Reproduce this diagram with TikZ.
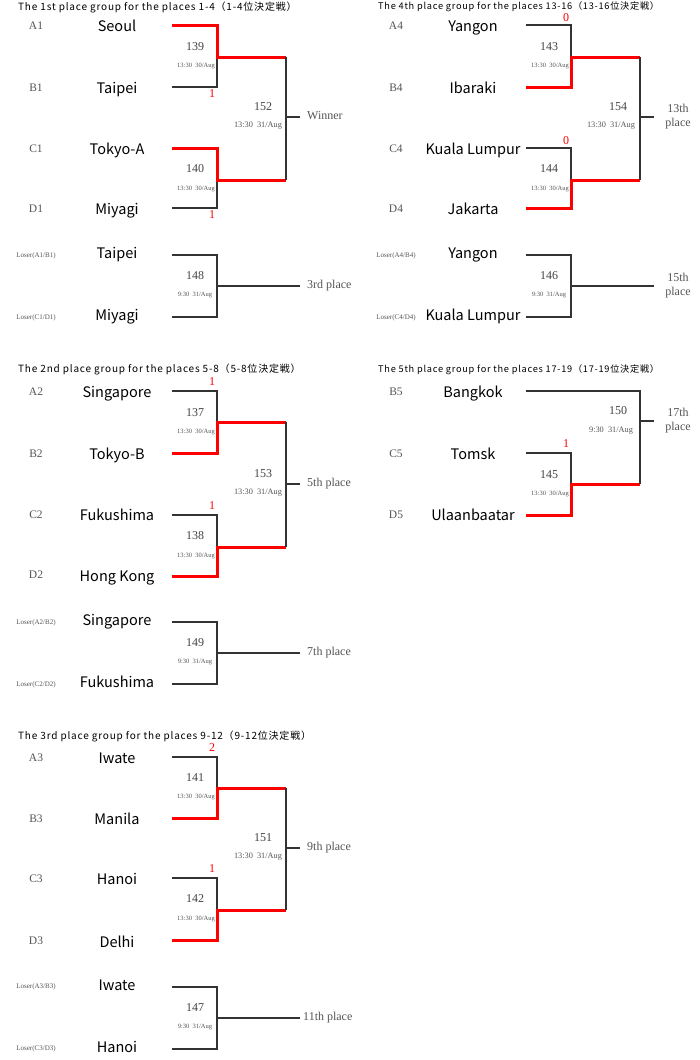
\documentclass[tikz,border=0pt]{standalone}
\usepackage{fontspec}
\setmainfont{Liberation Serif}
\newfontfamily\jp{Noto Sans CJK JP}
\newfontfamily\jpt[LetterSpace=8]{Noto Sans CJK JP}
\definecolor{wred}{HTML}{FF0000}
\definecolor{lgray}{HTML}{333333}
\definecolor{tgray}{HTML}{555555}
\tikzset{
 team/.style={font=\jp\fontsize{14.5}{16}\selectfont, text=black, inner sep=0pt, anchor=mid, yshift=-3pt},
 slot/.style={font=\fontsize{11.5}{12}\selectfont, text=tgray, inner sep=0pt, anchor=mid, yshift=-1pt},
 losr/.style={font=\fontsize{7}{8}\selectfont, text=tgray, inner sep=0pt, anchor=mid},
 gno/.style={font=\fontsize{12}{13}\selectfont, text=tgray!80!black, inner sep=0pt, anchor=mid},
 gdate/.style={font=\fontsize{6.5}{7}\selectfont, text=tgray, inner sep=0pt, anchor=mid},
 fdate/.style={font=\fontsize{8.3}{9}\selectfont, text=tgray, inner sep=0pt, anchor=mid},
 score/.style={font=\fontsize{12}{13}\selectfont, text=wred, inner sep=0pt, anchor=mid},
 place/.style={font=\fontsize{12}{14}\selectfont, text=tgray, inner sep=0pt, align=center},
 gtitle/.style={font=\jpt\fontsize{10}{11}\selectfont, inner sep=0pt, anchor=mid west},
 gtitler/.style={font=\jpt\fontsize{9.2}{11}\selectfont, inner sep=0pt, anchor=mid west},
 bl/.style={draw=lgray, line width=1.2pt},
 rl/.style={draw=wred, line width=3pt},
}
% semi-final pair: #1 prefix, #2 ytop, #3 ybot, #4 yjoin, #5 winner (1 top / 2 bottom)
\newcommand\semipair[5]{%
 \coordinate (#1t) at (172,#2);
 \coordinate (#1b) at (172,#3);
 \coordinate (#1j) at (217,#4);
 \coordinate (#1o) at (286,#4);
 \ifnum#5=1
   \draw[bl] (#1b) -| (#1j);
   \draw[rl] (#1t) -| (#1j) -- (#1o);
 \else
   \draw[bl] (#1t) -| (#1j);
   \draw[rl] (#1b) -| (#1j) -- (#1o);
 \fi}
% loser pair: #1 prefix, #2 end of outgoing line
\newcommand\loserpair[2]{%
 \coordinate (#1t) at (172,255);
 \coordinate (#1b) at (172,317);
 \coordinate (#1j) at (217,286);
 \coordinate (#1e) at (#2,286);
 \draw[bl] (#1t) -| (#1j);
 \draw[bl] (#1b) -| (#1j);
 \draw[bl] (#1j) -- (#1e);}
\begin{document}
\begin{tikzpicture}[x=1pt,y=-1pt]
\useasboundingbox[fill=white] (0,0) rectangle (700,1060);

% ---------- titles ----------
\node[gtitle] (t1) at (18,8) {The 1st place group for the places 1-4（1-4位決定戦）};
\node[gtitler] (t4) at (378,7) {The 4th place group for the places 13-16（13-16位決定戦）};
\node[gtitle] (t2) at (18,370) {The 2nd place group for the places 5-8（5-8位決定戦）};
\node[gtitler] (t5) at (378,370) {The 5th place group for the places 17-19（17-19位決定戦）};
\node[gtitle] (t3) at (18,737) {The 3rd place group for the places 9-12（9-12位決定戦）};

% ---------- group 1 ----------
\begin{scope}
\node[slot] (g1sA) at (36,26) {A1};
\node[slot] (g1sB) at (36,88) {B1};
\node[slot] (g1sC) at (36,149) {C1};
\node[slot] (g1sD) at (36,209) {D1};
\node[team] (g1nA) at (117,26) {Seoul};
\node[team] (g1nB) at (117,88) {Taipei};
\node[team] (g1nC) at (117,149) {Tokyo-A};
\node[team] (g1nD) at (117,209) {Miyagi};
\semipair{g1ab}{25}{87}{57}{1}
\semipair{g1cd}{148}{208}{180}{1}
\node[gno] (g1m1) at (195,48) {139};
\node[gdate] (g1d1) at (196,65) {13:30\ \ 30/Aug};
\node[gno] (g1m2) at (195,170) {140};
\node[gdate] (g1d2) at (196,188) {13:30\ \ 30/Aug};
\node[score] (g1r1) at (212,95) {1};
\node[score] (g1r2) at (212,216) {1};
\coordinate (g1ft) at (286,57);
\coordinate (g1fb) at (286,180);
\coordinate (g1fm) at (286,117);
\coordinate (g1fe) at (300,117);
\draw[bl] (g1ft) -- (g1fb);
\draw[bl] (g1fm) -- (g1fe);
\node[gno] (g1m3) at (263,108) {152};
\node[fdate] (g1d3) at (258,125) {13:30\ \ 31/Aug};
\node[place, anchor=mid west] (g1p1) at (307,117) {Winner};
\node[losr] (g1lA) at (36,255) {Loser(A1/B1)};
\node[losr] (g1lB) at (36,317) {Loser(C1/D1)};
\node[team] (g1lnA) at (117,253) {Taipei};
\node[team] (g1lnB) at (117,315) {Miyagi};
\loserpair{g1l}{300}
\node[gno] (g1m4) at (195,277) {148};
\node[gdate] (g1d4) at (195,294) {9:30\ \ 31/Aug};
\node[place, anchor=mid west] (g1p2) at (307,286) {3rd place};
\end{scope}

% ---------- group 2 ----------
\begin{scope}[shift={(0,366)}]
\node[slot] (g2sA) at (36,26) {A2};
\node[slot] (g2sB) at (36,88) {B2};
\node[slot] (g2sC) at (36,149) {C2};
\node[slot] (g2sD) at (36,209) {D2};
\node[team] (g2nA) at (117,26) {Singapore};
\node[team] (g2nB) at (117,88) {Tokyo-B};
\node[team] (g2nC) at (117,149) {Fukushima};
\node[team] (g2nD) at (117,210) {Hong Kong};
\semipair{g2ab}{25}{87}{56}{2}
\semipair{g2cd}{149}{210}{181}{2}
\node[gno] (g2m1) at (195,48) {137};
\node[gdate] (g2d1) at (196,65) {13:30\ \ 30/Aug};
\node[gno] (g2m2) at (195,171) {138};
\node[gdate] (g2d2) at (196,189) {13:30\ \ 30/Aug};
\node[score] (g2r1) at (212,17) {1};
\node[score] (g2r2) at (212,141) {1};
\coordinate (g2ft) at (286,56);
\coordinate (g2fb) at (286,181);
\coordinate (g2fm) at (286,118);
\coordinate (g2fe) at (300,118);
\draw[bl] (g2ft) -- (g2fb);
\draw[bl] (g2fm) -- (g2fe);
\node[gno] (g2m3) at (263,109) {153};
\node[fdate] (g2d3) at (258,126) {13:30\ \ 31/Aug};
\node[place, anchor=mid west] (g2p1) at (307,118) {5th place};
\node[losr] (g2lA) at (36,256) {Loser(A2/B2)};
\node[losr] (g2lB) at (36,318) {Loser(C2/D2)};
\node[team] (g2lnA) at (117,254) {Singapore};
\node[team] (g2lnB) at (117,316) {Fukushima};
\begin{scope}[shift={(0,1)}]
\loserpair{g2l}{300}
\end{scope}
\node[gno] (g2m4) at (195,278) {149};
\node[gdate] (g2d4) at (195,295) {9:30\ \ 31/Aug};
\node[place, anchor=mid west] (g2p2) at (307,287) {7th place};
\end{scope}

% ---------- group 3 ----------
\begin{scope}[shift={(0,732)}]
\node[slot] (g3sA) at (36,26) {A3};
\node[slot] (g3sB) at (36,87) {B3};
\node[slot] (g3sC) at (36,147) {C3};
\node[slot] (g3sD) at (36,209) {D3};
\node[team] (g3nA) at (117,26) {Iwate};
\node[team] (g3nB) at (117,87) {Manila};
\node[team] (g3nC) at (117,147) {Hanoi};
\node[team] (g3nD) at (117,210) {Delhi};
\semipair{g3ab}{25}{86}{56}{2}
\semipair{g3cd}{146}{208}{178}{2}
\node[gno] (g3m1) at (195,47) {141};
\node[gdate] (g3d1) at (196,64) {13:30\ \ 30/Aug};
\node[gno] (g3m2) at (195,168) {142};
\node[gdate] (g3d2) at (196,186) {13:30\ \ 30/Aug};
\node[score] (g3r1) at (212,17) {2};
\node[score] (g3r2) at (212,138) {1};
\coordinate (g3ft) at (286,56);
\coordinate (g3fb) at (286,178);
\coordinate (g3fm) at (286,116);
\coordinate (g3fe) at (300,116);
\draw[bl] (g3ft) -- (g3fb);
\draw[bl] (g3fm) -- (g3fe);
\node[gno] (g3m3) at (263,107) {151};
\node[fdate] (g3d3) at (258,124) {13:30\ \ 31/Aug};
\node[place, anchor=mid west] (g3p1) at (307,116) {9th place};
\node[losr] (g3lA) at (36,254) {Loser(A3/B3)};
\node[losr] (g3lB) at (36,316) {Loser(C3/D3)};
\node[team] (g3lnA) at (117,253) {Iwate};
\node[team] (g3lnB) at (117,315) {Hanoi};
\loserpair{g3l}{300}
\node[gno] (g3m4) at (195,277) {147};
\node[gdate] (g3d4) at (195,294) {9:30\ \ 31/Aug};
\node[place, anchor=mid west] (g3p2) at (303,286) {11th place};
\end{scope}

% ---------- group 4 ----------
\begin{scope}[shift={(354,0)}]
\node[slot] (g4sA) at (42,26) {A4};
\node[slot] (g4sB) at (42,88) {B4};
\node[slot] (g4sC) at (42,149) {C4};
\node[slot] (g4sD) at (42,209) {D4};
\node[team] (g4nA) at (119,26) {Yangon};
\node[team] (g4nB) at (119,88) {Ibaraki};
\node[team] (g4nC) at (119,149) {Kuala Lumpur};
\node[team] (g4nD) at (119,209) {Jakarta};
\semipair{g4ab}{25}{87}{57}{2}
\semipair{g4cd}{148}{208}{180}{2}
\node[gno] (g4m1) at (195,48) {143};
\node[gdate] (g4d1) at (196,65) {13:30\ \ 30/Aug};
\node[gno] (g4m2) at (195,170) {144};
\node[gdate] (g4d2) at (196,188) {13:30\ \ 30/Aug};
\node[score] (g4r1) at (212,19) {0};
\node[score] (g4r2) at (212,142) {0};
\coordinate (g4ft) at (286,57);
\coordinate (g4fb) at (286,180);
\coordinate (g4fm) at (286,117);
\coordinate (g4fe) at (300,117);
\draw[bl] (g4ft) -- (g4fb);
\draw[bl] (g4fm) -- (g4fe);
\node[gno] (g4m3) at (264,108) {154};
\node[fdate] (g4d3) at (257,125) {13:30\ \ 31/Aug};
\node[place] (g4p1) at (324,117) {13th\\place};
\node[losr] (g4lA) at (42,255) {Loser(A4/B4)};
\node[losr] (g4lB) at (42,317) {Loser(C4/D4)};
\node[team] (g4lnA) at (119,253) {Yangon};
\node[team] (g4lnB) at (119,315) {Kuala Lumpur};
\loserpair{g4l}{300}
\node[gno] (g4m4) at (195,277) {146};
\node[gdate] (g4d4) at (195,294) {9:30\ \ 31/Aug};
\node[place] (g4p2) at (324,286) {15th\\place};
\end{scope}

% ---------- group 5 ----------
\begin{scope}[shift={(354,366)}]
\node[slot] (g5sB) at (42,26) {B5};
\node[slot] (g5sC) at (42,88) {C5};
\node[slot] (g5sD) at (42,149) {D5};
\node[team] (g5nB) at (119,26) {Bangkok};
\node[team] (g5nC) at (119,88) {Tomsk};
\node[team] (g5nD) at (119,149) {Ulaanbaatar};
\coordinate (g5bt) at (172,25);
\coordinate (g5bv) at (286,25);
\semipair{g5cd}{87}{149}{118}{2}
\coordinate (g5fb) at (286,118);
\coordinate (g5fm) at (286,55);
\coordinate (g5fe) at (300,55);
\draw[bl] (g5bt) -- (g5bv) -- (g5fb);
\draw[bl] (g5fm) -- (g5fe);
\node[score] (g5r1) at (212,79) {1};
\node[gno] (g5m1) at (195,110) {145};
\node[gdate] (g5d1) at (196,127) {13:30\ \ 30/Aug};
\node[gno] (g5m2) at (264,46) {150};
\node[fdate] (g5d2) at (257,64) {9:30\ \ 31/Aug};
\node[place] (g5p1) at (324,55) {17th\\place};
\end{scope}
\end{tikzpicture}
\end{document}
